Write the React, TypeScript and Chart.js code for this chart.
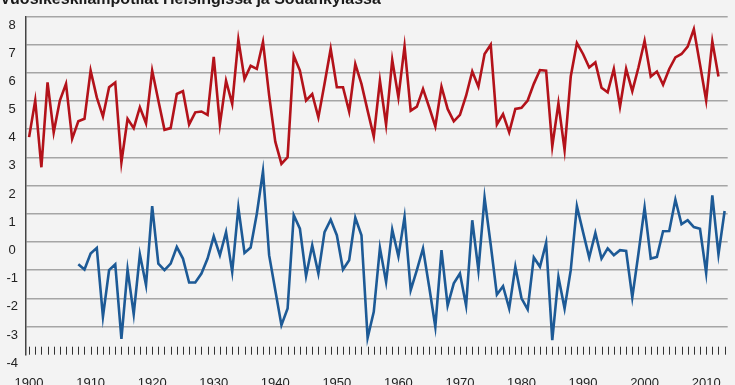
import React, { useEffect, useRef } from "react";
import { Chart, registerables } from "chart.js";

Chart.register(...registerables);

const TITLE = "Vuosikeskilämpötilat Helsingissä ja Sodankylässä";

// Helsinki annual mean temperature, 1900–2012
const HELSINKI_START = 1900;
const helsinki = [
  3.72, 5.02, 2.65, 5.66, 3.89, 5.02, 5.61, 3.66, 4.28, 4.37,
  6.08, 5.13, 4.45, 5.49, 5.66, 2.83, 4.37, 4.04, 4.78, 4.21,
  6.08, 5.02, 3.98, 4.04, 5.25, 5.35, 4.17, 4.6, 4.63, 4.51,
  6.57, 4.17, 5.72, 4.9, 7.18, 5.78, 6.25, 6.14, 7.1, 5.2,
  3.56, 2.77, 3.01, 6.61, 6.08, 5.02, 5.25, 4.42, 5.61, 6.85,
  5.49, 5.49, 4.63, 6.31, 5.61, 4.66, 3.74, 5.72, 4.16, 6.46,
  5.13, 6.94, 4.66, 4.8, 5.43, 4.78, 4.1, 5.51, 4.72, 4.28,
  4.51, 5.19, 6.05, 5.51, 6.67, 7.0, 4.17, 4.54, 3.89, 4.72,
  4.76, 5.02, 5.61, 6.1, 6.08, 3.39, 4.92, 3.27, 5.87, 7.06,
  6.67, 6.19, 6.37, 5.47, 5.31, 6.14, 4.8, 6.14, 5.35, 6.19,
  7.14, 5.87, 6.05, 5.58, 6.14, 6.55, 6.67, 6.93, 7.55, 6.3,
  5.02, 7.12, 5.87,
];

// Sodankylä annual mean temperature, 1908–2013
const SODANKYLA_START = 1908;
const sodankyla = [
  -0.79, -0.98,
  -0.41, -0.21, -2.65, -1.0, -0.79, -3.44, -0.98, -2.56, -0.44, -1.53,
  1.27, -0.77, -1.0, -0.77, -0.18, -0.59, -1.44, -1.44, -1.12, -0.59,
  0.2, -0.47, 0.35, -1.06, 1.22, -0.39, -0.2, 1.0, 2.51, -0.47,
  -1.71, -2.95, -2.36, 0.95, 0.47, -1.21, -0.12, -1.12, 0.35, 0.79,
  0.24, -0.98, -0.65, 0.86, 0.24, -3.4, -2.48, -0.21, -1.42, 0.44,
  -0.51, 0.89, -1.71, -1.0, -0.23, -1.59, -3.01, -0.29, -2.26, -1.47,
  -1.12, -2.26, 0.77, -1.0, 1.57, -0.1, -1.87, -1.57, -2.36, -0.88,
  -2.0, -2.39, -0.55, -0.88, -0.03, -3.48, -1.24, -2.36, -1.0, 1.27,
  0.35, -0.55, 0.32, -0.59, -0.23, -0.47, -0.29, -0.32, -1.97, -0.41,
  1.22, -0.59, -0.53, 0.38, 0.39, 1.5, 0.63, 0.77, 0.53, 0.47,
  -1.1, 1.65, -0.44, 1.1,
];

// Axis settings
const X_MIN = 1899.5;
const X_MAX = 2013.5;
const X_LABEL_STEP = 10;
const FIRST_TICK_YEAR = 1900;
const LAST_TICK_YEAR = 2013;
const Y_MIN = -4;
const Y_MAX = 8;

const BG = "#f3f3f3";
const RED = "#b3121a";
const BLUE = "#1d5a96";
const FONT = '"Liberation Sans", Arial, sans-serif';

export default function App() {
  const ref = useRef<HTMLCanvasElement>(null);

  useEffect(() => {
    document.body.style.margin = "0";
    document.body.style.background = BG;
    const canvas = ref.current;
    if (!canvas) return;

    const toPoints = (start: number, vals: number[]) =>
      vals.map((v, i) => ({ x: start + i, y: v }));

    const bgPlugin = {
      id: "bgFill",
      beforeDraw(chart: any) {
        const { ctx, width, height } = chart;
        ctx.save();
        ctx.fillStyle = BG;
        ctx.fillRect(0, 0, width, height);
        ctx.restore();
      },
    };

    const titlePlugin = {
      id: "topTitle",
      afterDraw(chart: any) {
        const ctx = chart.ctx;
        ctx.save();
        ctx.font = `bold 16px ${FONT}`;
        ctx.fillStyle = "#1a1a1a";
        ctx.textAlign = "left";
        ctx.textBaseline = "alphabetic";
        ctx.fillText(TITLE, 0, 4);
        ctx.restore();
      },
    };

    const yearTicksPlugin = {
      id: "yearTicks",
      afterDatasetsDraw(chart: any) {
        const ctx = chart.ctx;
        const xs = chart.scales.x;
        const bottom = chart.chartArea.bottom;
        ctx.save();
        ctx.strokeStyle = "#333";
        ctx.lineWidth = 1;
        ctx.beginPath();
        for (let yr = FIRST_TICK_YEAR; yr <= LAST_TICK_YEAR; yr++) {
          const px = Math.round(xs.getPixelForValue(yr)) + 0.5;
          ctx.moveTo(px, bottom);
          ctx.lineTo(px, bottom - 8);
        }
        ctx.stroke();
        ctx.restore();
      },
    };

    const chart = new Chart(canvas, {
      type: "line",
      data: {
        datasets: [
          {
            label: "Helsinki",
            data: toPoints(HELSINKI_START, helsinki),
            borderColor: RED,
            borderWidth: 2.6,
            pointRadius: 0,
            tension: 0,
            fill: false,
          },
          {
            label: "Sodankylä",
            data: toPoints(SODANKYLA_START, sodankyla),
            borderColor: BLUE,
            borderWidth: 2.6,
            pointRadius: 0,
            tension: 0,
            fill: false,
          },
        ],
      },
      options: {
        animation: false,
        responsive: false,
        maintainAspectRatio: false,
        layout: { padding: { top: 16.5, right: 7.3, bottom: 0, left: 0 } },
        plugins: {
          legend: { display: false },
          title: { display: false },
          tooltip: { enabled: false },
        },
        scales: {
          x: {
            type: "linear",
            position: "bottom",
            min: X_MIN,
            max: X_MAX,
            grid: { display: false },
            border: { display: false },
            afterFit: (s: any) => {
              s.height = 30.3;
              s.paddingLeft = 0;
              s.paddingRight = 0;
            },
            ticks: {
              stepSize: X_LABEL_STEP,
              includeBounds: false,
              autoSkip: false,
              maxRotation: 0,
              padding: 13,
              color: "#222",
              font: { family: FONT, size: 13 },
              callback: (v: any) => String(v),
            },
          },
          y: {
            type: "linear",
            min: Y_MIN,
            max: Y_MAX,
            afterFit: (s: any) => {
              s.width = 26;
            },
            grid: {
              drawTicks: false,
              lineWidth: 1.5,
              color: (c: any) =>
                c.tick && c.tick.value === Y_MIN ? "rgba(0,0,0,0)" : "#a5a5a5",
            },
            border: { display: true, color: "#444", width: 1.5 },
            ticks: {
              stepSize: 1,
              crossAlign: "center",
              padding: 8,
              labelOffset: 8.5,
              color: "#222",
              font: { family: FONT, size: 13 },
            },
          },
        },
      },
      plugins: [bgPlugin, titlePlugin, yearTicksPlugin],
    });

    return () => chart.destroy();
  }, []);

  return (
    <div style={{ width: 735, height: 385 }}>
      <canvas ref={ref} width={735} height={385} style={{ display: "block" }} />
    </div>
  );
}
